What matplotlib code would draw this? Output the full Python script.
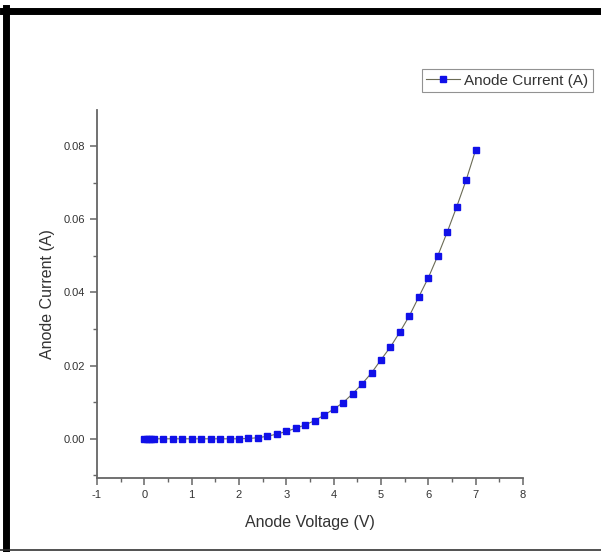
import numpy as np
import matplotlib.pyplot as plt
from matplotlib.lines import Line2D
from matplotlib.ticker import MultipleLocator

plt.rcParams['font.family'] = ['Liberation Sans', 'DejaVu Sans']
plt.rcParams['axes.unicode_minus'] = False

# anode voltage (V) and anode current (A)
voltage = [0.0, 0.05, 0.1, 0.15, 0.2, 0.4, 0.6, 0.8, 1.0, 1.2, 1.4, 1.6, 1.8, 2.0,
           2.2, 2.4, 2.6, 2.8, 3.0, 3.2, 3.4, 3.6, 3.8, 4.0, 4.2, 4.4, 4.6,
           4.8, 5.0, 5.2, 5.4, 5.6, 5.8, 6.0, 6.2, 6.4, 6.6, 6.8, 7.0]
current = [0.0, 0.0, 0.0, 0.0, 0.0, 0.0, 0.0, 0.0, 0.0, 0.0, 0.0, 0.0, 0.0, 0.0,
           0.0001, 0.0003, 0.0007, 0.0013, 0.0020, 0.0029, 0.0038, 0.0050, 0.0065,
           0.0081, 0.0099, 0.0123, 0.0150, 0.0180, 0.0216, 0.0251, 0.0292,
           0.0336, 0.0388, 0.0440, 0.0500, 0.0565, 0.0634, 0.0707, 0.0789]

x_ticks = [-1, 0, 1, 2, 3, 4, 5, 6, 7, 8]
y_ticks = [0.00, 0.02, 0.04, 0.06, 0.08]

fig = plt.figure(figsize=(6.01, 5.52), dpi=100)
ax = fig.add_axes([97 / 601, 1 - 478 / 552, 426 / 601, 368 / 552])

ax.plot(voltage, current, '-', color='#6b6b55', linewidth=0.8,
        marker='s', markersize=4.0, markerfacecolor='#1010e8',
        markeredgecolor='#1010e8', label='Anode Current (A)')

ax.set_xlim(-1, 8)
ax.set_ylim(-0.0107, 0.0898)
ax.set_xticks(x_ticks)
ax.set_yticks(y_ticks)
ax.set_yticklabels([f'{v:.2f}' for v in y_ticks])
ax.xaxis.set_minor_locator(MultipleLocator(0.5))
ax.yaxis.set_minor_locator(MultipleLocator(0.01))

for side in ['top', 'right']:
    ax.spines[side].set_visible(False)
for side in ['left', 'bottom']:
    ax.spines[side].set_color('#666666')
    ax.spines[side].set_linewidth(1.3)

ax.tick_params(which='major', direction='out', length=5, width=1.1,
               color='#666666', labelsize=8, labelcolor='#333333')
ax.tick_params(which='minor', direction='out', length=3, width=1.0,
               color='#666666')

ax.set_xlabel('Anode Voltage (V)', fontsize=11.5, color='#333333', labelpad=11)
ax.set_ylabel('Anode Current (A)', fontsize=11.5, color='#333333', labelpad=6)

leg = ax.legend(loc='upper right', bbox_to_anchor=(593 / 601, 1 - 69 / 552),
                bbox_transform=fig.transFigure, fontsize=11, frameon=True,
                fancybox=False, borderaxespad=0, handlelength=2.2,
                handletextpad=0.3, borderpad=0.3, labelcolor='#333333')
leg.get_frame().set_edgecolor('#777777')
leg.get_frame().set_linewidth(0.8)

# thick frame around the figure (open on the right)
fig.add_artist(Line2D([3 / 601, 1], [1 - 11 / 552] * 2, color='black',
                      linewidth=5, transform=fig.transFigure))
fig.add_artist(Line2D([6 / 601] * 2, [0, 1 - 8 / 552], color='black',
                      linewidth=5, transform=fig.transFigure))
fig.add_artist(Line2D([0, 1], [2 / 552] * 2, color='#333333',
                      linewidth=1.2, transform=fig.transFigure))

fig.savefig('out.png', dpi=100)
